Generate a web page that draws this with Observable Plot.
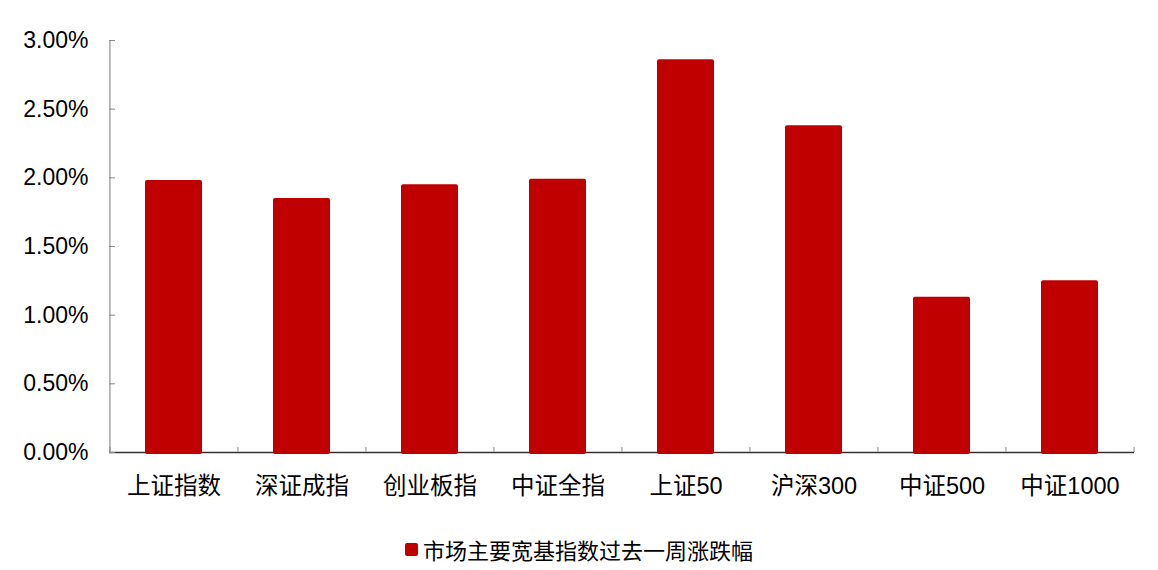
<!DOCTYPE html>
<html><head><meta charset="utf-8">
<script src="https://cdn.jsdelivr.net/npm/d3@7"></script>
<script src="https://cdn.jsdelivr.net/npm/@observablehq/plot@0.6"></script>
<style>
body{margin:0;background:#fff;font-family:"Liberation Sans","Noto Sans CJK SC",sans-serif;}
#wrap{position:relative;width:1158px;height:570px;}
#legend{position:absolute;left:0;top:535px;width:1158px;height:28px;display:flex;justify-content:center;align-items:center;font-size:22px;color:#000;}
#legend .sw{width:13px;height:13px;border-radius:2px;background:#C00000;margin-right:5px;}
</style></head><body>
<div id="wrap"><div id="chart"></div><div id="legend"></div></div>
<script>
const categories = ["上证指数","深证成指","创业板指","中证全指","上证50","沪深300","中证500","中证1000"];
const values = [1.98, 1.85, 1.95, 1.99, 2.86, 2.38, 1.13, 1.25];
const yTicks = [0, 0.5, 1, 1.5, 2, 2.5, 3];
const seriesName = "市场主要宽基指数过去一周涨跌幅";
const data = categories.map((c, i) => ({name: c, value: values[i]}));

const W = 1158, H = 525, ML = 109, MR = 24, MT = 40, MB = H - 452;
const step = (W - ML - MR) / categories.length;
const font = '"Liberation Sans","Noto Sans CJK SC",sans-serif';

const chart = Plot.plot({
  width: W, height: H,
  marginLeft: ML, marginRight: MR, marginTop: MT, marginBottom: MB,
  style: {fontFamily: font, fontSize: "23px", color: "#000", background: "#fff", overflow: "visible"},
  x: {domain: categories, paddingInner: 0.555, paddingOuter: 0.2775, label: null},
  y: {domain: [0, 3], label: null},
  marks: [
    Plot.ruleX([categories[0]], {dx: -step / 2, stroke: "#999", strokeWidth: 1.3}),
    Plot.ruleY([0], {stroke: "#333", strokeWidth: 1.3}),
    Plot.barY(data, {x: "name", y: "value", fill: "#C00000", rx: 2, insetBottom: -2}),
    Plot.axisY(yTicks, {tickSize: 0, tickPadding: 21, tickFormat: d => d.toFixed(2) + "%", fill: "#000", label: null}),
    Plot.axisY(yTicks, {tickSize: 6, dx: 6, text: null, stroke: "#888", label: null}),
    Plot.axisX(categories, {tickSize: 0, tickPadding: 25, fill: "#000", label: null, fontSize: 23.5}),
    Plot.axisX(categories, {tickSize: 5, dy: -5, dx: -step / 2, text: null, stroke: "#888", label: null}),
    Plot.axisX([categories[categories.length - 1]], {tickSize: 5, dy: -5, dx: step / 2, text: null, stroke: "#888", label: null})
  ]
});
document.getElementById("chart").appendChild(chart);
const lg = document.getElementById("legend");
lg.innerHTML = '<span class="sw"></span><span></span>';
lg.lastChild.textContent = seriesName;
</script>
</body></html>
